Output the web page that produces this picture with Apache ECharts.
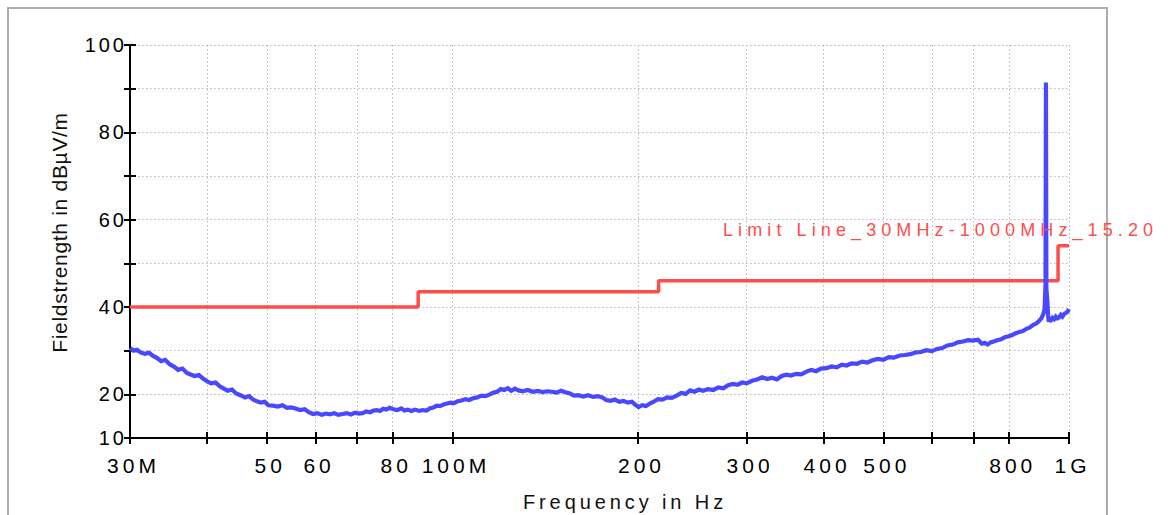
<!DOCTYPE html>
<html><head><meta charset="utf-8">
<script src="https://cdn.jsdelivr.net/npm/echarts@6/dist/echarts.min.js"></script>
<style>html,body{margin:0;padding:0;background:#fff}#chart{width:1168px;height:515px}</style>
</head><body><div id="chart"></div>
<script>
// ---- data ----
const traceFreq = [30.0,30.4,30.8,31.2,31.7,32.2,32.7,33.2,33.7,34.2,34.8,35.4,35.9,36.5,37.1,37.7,38.2,38.8,39.4,40.0,
40.6,41.3,42.0,42.6,43.2,43.9,44.6,45.3,46.1,46.8,47.5,48.2,48.9,49.6,50.3,51.2,52.1,53.0,53.9,54.7,
55.5,56.6,57.6,58.5,59.4,60.4,61.4,62.3,63.3,64.3,65.3,66.4,67.4,68.5,69.5,70.5,71.5,72.5,73.5,74.5,
75.4,76.3,77.2,78.1,79.1,80.2,81.4,82.6,83.6,84.6,85.8,87.0,88.3,89.5,90.8,92.0,93.2,94.3,95.5,96.8,
98.0,99.3,100.6,102.0,103.5,105.0,106.5,108.0,109.7,111.5,113.2,115.0,116.6,118.2,119.8,121.4,123.0,124.6,126.3,128.0,
130.0,132.5,135.0,137.5,140.0,142.5,145.0,147.5,150.0,152.5,155.0,157.5,160.0,163.0,166.0,169.0,172.0,175.0,177.5,180.5,
183.5,186.5,189.5,192.5,195.5,198.0,200.5,203.0,206.0,209.0,212.0,215.5,219.0,223.0,227.0,231.0,235.0,239.0,243.0,247.0,
251.0,255.0,260.0,265.0,270.0,275.0,280.0,285.0,290.0,295.0,300.0,306.0,312.0,318.0,324.0,330.0,336.0,342.0,348.0,354.0,
361.0,368.0,375.0,382.0,389.0,396.0,404.0,412.0,420.0,428.0,436.0,444.0,453.0,462.0,471.0,480.0,490.0,500.0,510.0,520.0,
531.0,542.0,553.0,564.0,575.0,587.0,599.0,611.0,623.0,635.0,648.0,660.0,673.0,686.0,699.0,712.0,722.0,730.0,738.0,746.0,
755.0,765.0,776.0,787.0,798.0,809.0,820.0,831.0,842.0,853.0,864.0,875.0,885.0,894.0,902.0,908.0,913.0,916.0,917.5,919.0,
921.0,923.0,925.0,927.0,930.0,935.0,940.0,946.0,952.0,958.0,964.0,970.0,976.0,982.0,988.0,994.0,1000.0];
const traceLevel = [30.6,30.0,30.2,29.6,29.3,29.5,28.8,28.3,27.6,27.9,26.9,26.3,25.6,25.9,24.9,24.5,24.2,24.4,23.6,23.0,
22.5,22.7,21.8,21.3,20.8,21.1,20.2,19.8,19.3,19.6,18.8,18.4,18.1,18.3,17.5,17.4,17.2,17.5,16.9,17.0,
16.8,16.4,16.6,15.9,15.5,15.7,15.3,15.6,15.4,15.7,15.3,15.5,15.7,15.4,15.8,15.6,15.7,16.1,15.9,16.3,
16.4,16.2,16.7,16.5,16.9,16.6,16.4,16.8,16.3,16.5,16.2,16.5,16.2,16.4,16.3,16.8,17.0,17.4,17.3,17.7,
17.9,18.1,18.0,18.4,18.6,18.9,18.7,19.1,19.3,19.7,19.6,20.0,20.4,20.6,21.2,21.0,21.4,20.8,21.3,20.9,
20.7,21.0,20.6,20.8,20.5,20.7,20.6,20.4,20.8,20.5,20.2,19.7,19.8,19.5,19.8,19.4,19.6,19.3,18.7,18.5,
18.8,18.3,18.5,18.1,18.3,17.6,17.1,17.5,17.3,17.9,18.3,18.9,18.8,19.3,19.2,19.7,20.3,20.1,20.9,20.6,
21.1,20.8,21.2,21.0,21.6,21.4,22.1,22.4,22.2,22.7,22.5,23.1,23.4,23.9,23.5,23.8,23.4,24.2,24.5,24.3,
24.7,24.6,25.2,25.6,25.3,25.9,26.0,26.4,26.2,26.8,26.6,27.1,27.0,27.5,27.3,27.8,28.1,27.9,28.5,28.4,
28.9,29.0,29.2,29.6,29.7,30.1,29.9,30.4,30.6,31.2,31.4,31.9,32.1,32.4,32.3,32.5,31.6,31.8,31.4,31.9,
32.1,32.4,32.6,33.1,33.3,33.6,34.0,34.3,34.5,35.0,35.3,35.9,36.2,36.8,37.4,38.3,39.5,45.0,91.4,44.0,
42.6,40.5,38.0,36.6,37.2,37.0,37.5,37.2,37.8,37.4,37.6,38.2,37.8,38.4,38.6,38.9,39.5];

const limitFreq = [30, 88, 216, 960, 1000];
const limitLevel = [40, 43.5, 46, 54, 54];

const xTickValues = [30, 40, 50, 60, 70, 80, 100, 200, 300, 400, 500, 600, 700, 800, 1000];
const xLabelValues = [30, 50, 60, 80, 100, 200, 300, 400, 500, 800, 1000];
const xLabelText = ['30M', '50', '60', '80', '100M', '200', '300', '400', '500', '800', '1G'];
const yLabelValues = [10, 20, 40, 60, 80, 100];

const limitName = 'Limit Line_30MHz-1000MHz_15.20';
const xName = 'Frequency in Hz';
const yName = 'Fieldstrength in dB\u00B5V/m';

// ---- chart ----
const FONT = '"Liberation Sans", Arial, Helvetica, sans-serif';
const chart = echarts.init(document.getElementById('chart'), null, {renderer: 'svg', width: 1168, height: 515});

const xLabelFmt = v => {
  const i = xLabelValues.findIndex(t => Math.abs(t - v) / t < 1e-6);
  return i >= 0 ? xLabelText[i] : '';
};
const gridLine = {show: true, lineStyle: {color: '#b4b4b4', width: 1, type: [1.5, 2.5]}};
const blackLine = {color: '#000', width: 2};

const option = {
  backgroundColor: '#fff',
  animation: false,
  textStyle: {fontFamily: FONT},
  grid: {left: 130, right: 99, top: 45, bottom: 77, containLabel: false, outerBoundsMode: 'none'},
  xAxis: [{
    type: 'log', logBase: 10, min: 30, max: 1000,
    name: xName, nameLocation: 'middle', nameGap: 54,
    nameTextStyle: {fontSize: 20, color: '#111', fontFamily: FONT, padding: [0, 0, 0, 51]},
    axisLine: {show: true, lineStyle: blackLine},
    axisTick: {show: true, customValues: xTickValues, length: 6, lineStyle: blackLine},
    axisLabel: {customValues: xLabelValues, formatter: xLabelFmt, fontSize: 21, color: '#000',
      margin: 17, fontFamily: FONT, padding: [0, 0, 0, 7]},
    splitLine: gridLine,
    minorTick: {show: false}, minorSplitLine: {show: false}
  }, {
    type: 'log', logBase: 10, min: 30, max: 1000, position: 'bottom',
    axisLine: {show: false},
    axisTick: {show: true, inside: true, customValues: xTickValues, length: 6, lineStyle: blackLine},
    axisLabel: {show: false}, splitLine: {show: false}
  }],
  yAxis: [{
    type: 'value', min: 10, max: 100, interval: 10,
    name: yName, nameLocation: 'middle', nameGap: 60,
    nameTextStyle: {fontSize: 21, color: '#111', fontFamily: FONT, padding: [0, 0, 0, 18]},
    axisLine: {show: true, lineStyle: blackLine},
    axisTick: {show: true, length: 6, lineStyle: blackLine},
    axisLabel: {customValues: yLabelValues, fontSize: 20, color: '#000', margin: 3, fontFamily: FONT},
    splitLine: gridLine
  }, {
    type: 'value', min: 10, max: 100, interval: 10, position: 'left',
    axisLine: {show: false},
    axisTick: {show: true, inside: true, length: 6, lineStyle: blackLine},
    axisLabel: {show: false}, splitLine: {show: false}
  }],
  series: [{
    name: limitName, type: 'line', step: 'end', symbol: 'none',
    data: limitFreq.map((f, i) => [f, limitLevel[i]]),
    lineStyle: {color: '#ff4c4c', width: 3.5}, z: 2
  }, {
    name: 'Trace', type: 'line', symbol: 'none',
    data: traceFreq.map((f, i) => [f, traceLevel[i]]),
    lineStyle: {color: '#4848ff', width: 4.2, join: 'miter'}, z: 3
  }],
  graphic: [{
    type: 'rect', silent: true, z: -10,
    shape: {x: 8, y: 8, width: 1099, height: 540},
    style: {fill: 'none', stroke: '#ababab', lineWidth: 2}
  }, {
    type: 'text', x: 723, y: 229.5, z: 10,
    style: {text: limitName, fill: '#ff4c4c', fontSize: 18, fontFamily: FONT, align: 'left', verticalAlign: 'middle'}
  }]
};
chart.setOption(option);

function applySpacing() {
  document.querySelectorAll('#chart svg text').forEach(t => {
    const s = t.textContent;
    let ls = null;
    if (s === limitName) ls = '5.1px';
    else if (s === xName) ls = '3.9px';
    else if (s === yName) ls = '0.7px';
    else if (/^[0-9]+M?$|^1G$/.test(s)) {
      ls = (t.getAttribute('text-anchor') === 'end') ? '3px' : '4px';
    }
    if (ls) t.style.letterSpacing = ls;
  });
}
chart.on('finished', applySpacing);
applySpacing();
setTimeout(applySpacing, 50);
</script>
</body></html>
